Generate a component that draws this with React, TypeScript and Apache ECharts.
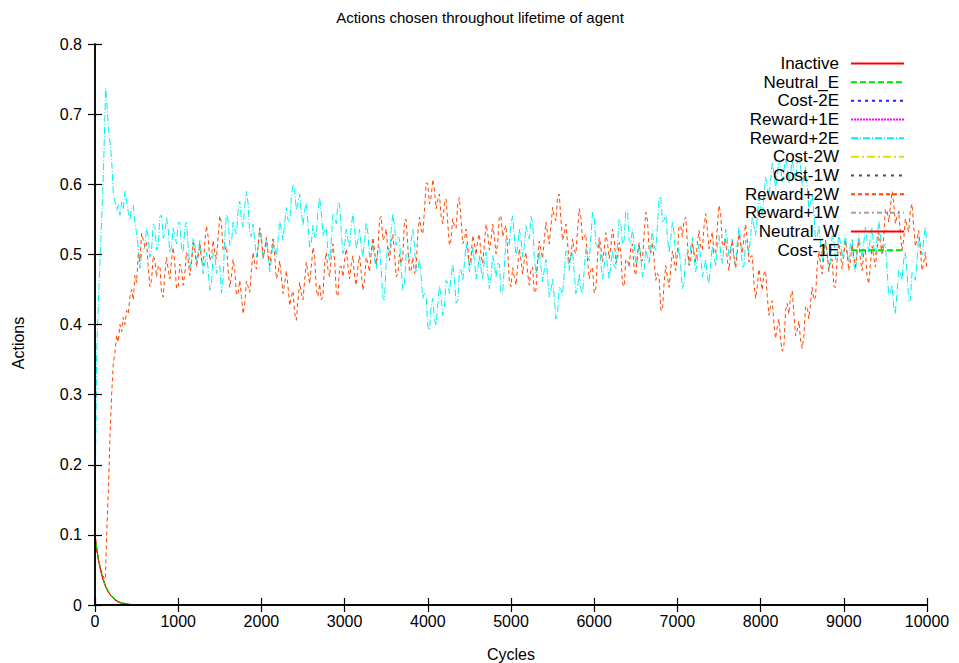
import React, { useEffect, useRef } from "react";
import * as echarts from "echarts";

// Steady-state part of the run: readings every 40 cycles from cycle 600,
// plus the in-between readings (cycle 620, 660, ...) that carry the jitter.
const BODY_START = 600;
const BODY_STEP = 40;

// Early decay of the inactive / neutral actions: [cycle, share]
const inactive: [number, number][] = [
  [0, 0.1], [20, 0.081], [40, 0.066], [60, 0.054], [80, 0.044], [100, 0.036],
  [120, 0.029], [160, 0.019], [200, 0.012], [240, 0.008], [280, 0.005],
  [320, 0.003], [400, 0.001], [500, 0], [10000, 0],
];
const neutralE: [number, number][] = [
  [0, 0.1], [20, 0.082], [40, 0.067], [60, 0.055], [80, 0.045], [100, 0.037],
  [120, 0.03], [160, 0.02], [200, 0.013], [240, 0.008], [280, 0.005],
  [320, 0.003], [400, 0.001], [520, 0], [10000, 0],
];
const neutralW: [number, number][] = [
  [0, 0.1], [20, 0.08], [40, 0.065], [60, 0.053], [80, 0.043], [100, 0.035],
  [120, 0.028], [160, 0.018], [200, 0.012], [240, 0.007], [280, 0.004],
  [320, 0.002], [400, 0.001], [500, 0], [10000, 0],
];
const cost1E: [number, number][] = [
  [0, 0.1], [20, 0.082], [40, 0.066], [60, 0.054], [80, 0.045], [100, 0.036],
  [120, 0.029], [160, 0.019], [200, 0.013], [240, 0.008], [280, 0.005],
  [320, 0.003], [400, 0.001], [520, 0], [10000, 0],
];
// Actions that were never picked
const neverChosen: [number, number][] = [[0, 0], [10000, 0]];

// Reward+2E: fast rise to the early peak, then the steady phase
const reward2EHead: [number, number][] = [
  [0, 0.09], [5, 0.18], [20, 0.36], [40, 0.43], [60, 0.49], [80, 0.55],
  [100, 0.61], [115, 0.68], [128, 0.737], [140, 0.72], [160, 0.68],
  [180, 0.66], [200, 0.635], [220, 0.587], [240, 0.575], [260, 0.563],
  [280, 0.57], [300, 0.556], [320, 0.575], [340, 0.565], [360, 0.59],
  [380, 0.575], [400, 0.56], [420, 0.55], [440, 0.565], [460, 0.57],
  [480, 0.545], [500, 0.53], [520, 0.51], [540, 0.48], [560, 0.5],
];
const reward2EBody = [
  0.511, 0.525, 0.506, 0.54, 0.511, 0.556, 0.53, 0.535, 0.511, 0.525,
  0.545, 0.506, 0.54, 0.511, 0.492, 0.514, 0.502, 0.497, 0.487, 0.478,
  0.459, 0.502, 0.483, 0.445, 0.525, 0.549, 0.516, 0.535, 0.563, 0.549,
  0.568, 0.573, 0.525, 0.52, 0.511, 0.52, 0.506, 0.497, 0.492, 0.511,
  0.52, 0.535, 0.544, 0.549, 0.582, 0.592, 0.573, 0.559, 0.563, 0.544,
  0.516, 0.525, 0.563, 0.559, 0.535, 0.502, 0.52, 0.554, 0.573, 0.53,
  0.511, 0.52, 0.54, 0.535, 0.52, 0.511, 0.52, 0.53, 0.502, 0.492,
  0.506, 0.478, 0.435, 0.511, 0.535, 0.54, 0.525, 0.478, 0.459, 0.502,
  0.52, 0.511, 0.478, 0.468, 0.445, 0.397, 0.426, 0.407, 0.43, 0.44,
  0.426, 0.459, 0.468, 0.464, 0.435, 0.478, 0.487, 0.502, 0.487, 0.492,
  0.478, 0.478, 0.492, 0.473, 0.468, 0.487, 0.487, 0.445, 0.483, 0.521,
  0.544, 0.525, 0.511, 0.521, 0.511, 0.53, 0.554, 0.497, 0.487, 0.483,
  0.478, 0.468, 0.45, 0.44, 0.416, 0.45, 0.473, 0.497, 0.497, 0.473,
  0.454, 0.45, 0.478, 0.497, 0.525, 0.554, 0.511, 0.487, 0.483, 0.483,
  0.487, 0.483, 0.516, 0.544, 0.521, 0.563, 0.516, 0.516, 0.492, 0.497,
  0.478, 0.497, 0.516, 0.511, 0.54, 0.582, 0.549, 0.525, 0.521, 0.53,
  0.497, 0.483, 0.459, 0.502, 0.511, 0.497, 0.492, 0.497, 0.478, 0.468,
  0.487, 0.497, 0.511, 0.502, 0.511, 0.521, 0.511, 0.492, 0.516, 0.521,
  0.483, 0.516, 0.525, 0.54, 0.554, 0.568, 0.582, 0.597, 0.606, 0.616,
  0.611, 0.625, 0.62, 0.627, 0.616, 0.62, 0.63, 0.625, 0.611, 0.597,
  0.573, 0.559, 0.525, 0.516, 0.502, 0.497, 0.492, 0.521, 0.5, 0.516,
  0.511, 0.502, 0.516, 0.487, 0.502, 0.511, 0.516, 0.521, 0.525, 0.511,
  0.525, 0.53, 0.511, 0.478, 0.445, 0.426, 0.445, 0.473, 0.492, 0.473,
  0.435, 0.473, 0.492, 0.516, 0.521, 0.516,
];
const reward2EJitter = [
  0.538, 0.496, 0.543, 0.506, 0.554, 0.523, 0.553, 0.503, 0.538, 0.515,
  0.546, 0.503, 0.546, 0.482, 0.523, 0.488, 0.52, 0.472, 0.503, 0.449,
  0.501, 0.473, 0.484, 0.465, 0.557, 0.513, 0.546, 0.529, 0.576, 0.539,
  0.59, 0.529, 0.543, 0.496, 0.536, 0.493, 0.522, 0.475, 0.522, 0.496,
  0.548, 0.52, 0.567, 0.546, 0.6, 0.563, 0.586, 0.541, 0.574, 0.51,
  0.541, 0.524, 0.581, 0.527, 0.539, 0.491, 0.557, 0.544, 0.572, 0.501,
  0.536, 0.51, 0.558, 0.508, 0.536, 0.496, 0.545, 0.496, 0.517, 0.479,
  0.512, 0.437, 0.493, 0.503, 0.558, 0.513, 0.522, 0.449, 0.501, 0.491,
  0.536, 0.475, 0.493, 0.437, 0.441, 0.392, 0.437, 0.399, 0.455, 0.413,
  0.463, 0.444, 0.486, 0.43, 0.477, 0.463, 0.515, 0.475, 0.51, 0.465,
  0.498, 0.465, 0.503, 0.451, 0.498, 0.467, 0.486, 0.444, 0.522, 0.513,
  0.555, 0.498, 0.536, 0.496, 0.541, 0.522, 0.546, 0.472, 0.505, 0.461,
  0.493, 0.439, 0.465, 0.408, 0.453, 0.442, 0.505, 0.477, 0.505, 0.444,
  0.472, 0.444, 0.508, 0.491, 0.56, 0.513, 0.519, 0.465, 0.503, 0.465,
  0.505, 0.48, 0.55, 0.513, 0.562, 0.52, 0.536, 0.484, 0.515, 0.468,
  0.508, 0.487, 0.534, 0.506, 0.581, 0.546, 0.557, 0.503, 0.546, 0.494,
  0.51, 0.451, 0.501, 0.487, 0.524, 0.475, 0.515, 0.468, 0.493, 0.458,
  0.512, 0.484, 0.527, 0.487, 0.536, 0.496, 0.522, 0.484, 0.539, 0.482,
  0.52, 0.501, 0.553, 0.527, 0.581, 0.555, 0.61, 0.582, 0.631, 0.594,
  0.635, 0.603, 0.636, 0.602, 0.634, 0.605, 0.636, 0.598, 0.624, 0.565,
  0.586, 0.522, 0.541, 0.489, 0.52, 0.475, 0.527, 0.491, 0.528, 0.494,
  0.527, 0.489, 0.522, 0.475, 0.527, 0.494, 0.539, 0.503, 0.538, 0.498,
  0.548, 0.501, 0.515, 0.442, 0.456, 0.416, 0.479, 0.463, 0.503, 0.434,
  0.474, 0.463, 0.524, 0.499, 0.539,
];

// Reward+2W: dips at the start, climbs, then mirrors Reward+2E
const reward2WHead: [number, number][] = [
  [0, 0.09], [40, 0.065], [80, 0.048], [110, 0.038], [125, 0.036],
  [140, 0.1], [160, 0.16], [180, 0.24], [200, 0.3], [220, 0.345],
  [240, 0.36], [260, 0.385], [280, 0.375], [300, 0.4], [320, 0.39],
  [340, 0.41], [360, 0.4], [380, 0.42], [400, 0.415], [420, 0.44],
  [440, 0.45], [460, 0.435], [480, 0.47], [500, 0.46], [520, 0.5],
  [540, 0.49], [560, 0.53],
];
const reward2WBody = [
  0.511, 0.483, 0.464, 0.492, 0.483, 0.445, 0.473, 0.478, 0.492, 0.487,
  0.454, 0.478, 0.473, 0.492, 0.487, 0.506, 0.497, 0.492, 0.516, 0.525,
  0.497, 0.502, 0.525, 0.544, 0.506, 0.478, 0.468, 0.478, 0.445, 0.44,
  0.43, 0.454, 0.478, 0.487, 0.511, 0.525, 0.506, 0.502, 0.506, 0.497,
  0.473, 0.468, 0.459, 0.454, 0.44, 0.416, 0.435, 0.445, 0.464, 0.473,
  0.483, 0.497, 0.44, 0.435, 0.487, 0.478, 0.497, 0.492, 0.44, 0.483,
  0.492, 0.483, 0.487, 0.468, 0.483, 0.473, 0.464, 0.487, 0.502, 0.506,
  0.506, 0.554, 0.525, 0.506, 0.516, 0.502, 0.473, 0.487, 0.549, 0.511,
  0.478, 0.473, 0.53, 0.535, 0.563, 0.601, 0.582, 0.592, 0.578, 0.554,
  0.573, 0.544, 0.521, 0.54, 0.573, 0.549, 0.521, 0.511, 0.497, 0.516,
  0.521, 0.497, 0.516, 0.53, 0.521, 0.525, 0.516, 0.554, 0.535, 0.506,
  0.454, 0.468, 0.483, 0.492, 0.492, 0.473, 0.478, 0.445, 0.492, 0.506,
  0.521, 0.53, 0.54, 0.554, 0.582, 0.549, 0.53, 0.516, 0.497, 0.506,
  0.535, 0.554, 0.525, 0.492, 0.478, 0.445, 0.497, 0.511, 0.506, 0.516,
  0.511, 0.521, 0.492, 0.502, 0.454, 0.492, 0.511, 0.478, 0.502, 0.492,
  0.53, 0.549, 0.502, 0.492, 0.473, 0.421, 0.459, 0.468, 0.478, 0.492,
  0.502, 0.54, 0.549, 0.516, 0.492, 0.502, 0.516, 0.511, 0.54, 0.535,
  0.521, 0.502, 0.54, 0.559, 0.511, 0.492, 0.502, 0.497, 0.502, 0.516,
  0.525, 0.521, 0.497, 0.459, 0.454, 0.464, 0.473, 0.44, 0.426, 0.402,
  0.397, 0.378, 0.369, 0.43, 0.44, 0.416, 0.392, 0.378, 0.383, 0.426,
  0.43, 0.435, 0.483, 0.487, 0.497, 0.502, 0.492, 0.454, 0.492, 0.5,
  0.497, 0.502, 0.492, 0.497, 0.506, 0.492, 0.502, 0.468, 0.487, 0.497,
  0.506, 0.516, 0.525, 0.563, 0.568, 0.573, 0.554, 0.53, 0.521, 0.54,
  0.563, 0.54, 0.521, 0.506, 0.487, 0.478,
];
const reward2WJitter = [
  0.517, 0.454, 0.498, 0.468, 0.484, 0.439, 0.496, 0.465, 0.51, 0.451,
  0.486, 0.456, 0.503, 0.47, 0.517, 0.482, 0.515, 0.484, 0.541, 0.491,
  0.52, 0.494, 0.555, 0.505, 0.512, 0.453, 0.493, 0.442, 0.463, 0.415,
  0.462, 0.446, 0.503, 0.479, 0.538, 0.496, 0.524, 0.484, 0.522, 0.465,
  0.491, 0.444, 0.477, 0.427, 0.448, 0.406, 0.46, 0.435, 0.489, 0.458,
  0.51, 0.449, 0.458, 0.441, 0.503, 0.468, 0.515, 0.446, 0.482, 0.468,
  0.508, 0.465, 0.498, 0.456, 0.498, 0.449, 0.496, 0.475, 0.524, 0.486,
  0.55, 0.52, 0.536, 0.491, 0.529, 0.468, 0.5, 0.498, 0.55, 0.475,
  0.496, 0.482, 0.553, 0.529, 0.602, 0.572, 0.607, 0.565, 0.586, 0.544,
  0.579, 0.513, 0.551, 0.537, 0.581, 0.515, 0.536, 0.484, 0.527, 0.499,
  0.529, 0.487, 0.543, 0.506, 0.543, 0.501, 0.555, 0.525, 0.541, 0.46,
  0.481, 0.456, 0.508, 0.472, 0.503, 0.456, 0.482, 0.449, 0.519, 0.494,
  0.546, 0.515, 0.567, 0.548, 0.586, 0.52, 0.543, 0.487, 0.522, 0.501,
  0.565, 0.52, 0.529, 0.465, 0.482, 0.451, 0.524, 0.489, 0.531, 0.494,
  0.536, 0.487, 0.517, 0.458, 0.493, 0.482, 0.515, 0.47, 0.517, 0.491,
  0.56, 0.506, 0.517, 0.463, 0.467, 0.42, 0.484, 0.453, 0.505, 0.477,
  0.541, 0.525, 0.553, 0.484, 0.517, 0.489, 0.534, 0.506, 0.558, 0.508,
  0.532, 0.501, 0.57, 0.515, 0.522, 0.477, 0.52, 0.48, 0.529, 0.501,
  0.543, 0.489, 0.498, 0.437, 0.479, 0.449, 0.477, 0.413, 0.434, 0.38,
  0.408, 0.362, 0.42, 0.415, 0.448, 0.384, 0.405, 0.366, 0.425, 0.408,
  0.453, 0.439, 0.505, 0.472, 0.52, 0.477, 0.493, 0.453, 0.516, 0.479,
  0.52, 0.477, 0.515, 0.482, 0.519, 0.477, 0.505, 0.458, 0.512, 0.482,
  0.531, 0.501, 0.564, 0.546, 0.59, 0.544, 0.562, 0.506, 0.551, 0.532,
  0.572, 0.511, 0.534, 0.477, 0.503,
];

const xTicks = [0, 1000, 2000, 3000, 4000, 5000, 6000, 7000, 8000, 9000, 10000];

// Head points, then each steady reading followed by its in-between reading
const buildTrace = (head: [number, number][], body: number[], jitter: number[]) => {
  const pts: number[][] = [...head];
  body.forEach((v, i) => {
    const c = BODY_START + i * BODY_STEP;
    pts.push([c, v]);
    if (i < jitter.length) pts.push([c + BODY_STEP / 2, jitter[i]]);
  });
  return pts;
};

const FONT = "'Liberation Sans', Arial, Helvetica, sans-serif";

type Line = { name: string; data: number[][]; color: string; dash: number[] | "solid" };

const lines: Line[] = [
  { name: "Inactive", data: inactive, color: "#ff0000", dash: "solid" },
  { name: "Neutral_E", data: neutralE, color: "#00dd00", dash: [6, 3] },
  { name: "Cost-2E", data: neverChosen, color: "#2020ff", dash: [3, 4] },
  { name: "Reward+1E", data: neverChosen, color: "#ff00ff", dash: [2, 1] },
  { name: "Reward+2E", data: buildTrace(reward2EHead, reward2EBody, reward2EJitter), color: "#00f0f0", dash: [7, 2, 1, 2] },
  { name: "Cost-2W", data: neverChosen, color: "#e0e000", dash: [8, 3, 2, 3] },
  { name: "Cost-1W", data: neverChosen, color: "#505050", dash: [3, 5] },
  { name: "Reward+2W", data: buildTrace(reward2WHead, reward2WBody, reward2WJitter), color: "#ff4500", dash: [4, 3] },
  { name: "Reward+1W", data: neverChosen, color: "#a0a0a0", dash: [5, 3, 2, 3] },
  { name: "Neutral_W", data: neutralW, color: "#ff0000", dash: "solid" },
  { name: "Cost-1E", data: cost1E, color: "#00dd00", dash: [6, 3] },
];

export default function App() {
  const ref = useRef<HTMLDivElement>(null);

  useEffect(() => {
    if (!ref.current) return;
    const chart = echarts.init(ref.current, null, { renderer: "svg" });

    const axisLine = { show: true, lineStyle: { color: "#000", width: 1.5 } };
    const axisTick = { show: true, inside: true, length: 7, lineStyle: { color: "#000", width: 1.2 } };

    chart.setOption({
      animation: false,
      backgroundColor: "#fff",
      grid: { left: 95, right: 32, top: 44, bottom: 58, containLabel: false },
      xAxis: [
        {
          type: "value", min: 0, max: 10000, interval: 1000, position: "bottom", z: 5,
          axisLine, axisTick, splitLine: { show: false },
          axisLabel: {
            margin: 8, color: "#000", fontSize: 16, fontFamily: FONT,
            formatter: (v: number) => (xTicks.includes(v) ? String(v) : ""),
          },
        },
        {
          type: "value", min: 0, max: 10000, interval: 1000, position: "top", z: 5,
          axisLine, axisTick, splitLine: { show: false }, axisLabel: { show: false },
        },
      ],
      yAxis: [
        {
          type: "value", min: 0, max: 0.8, interval: 0.1, position: "left", z: 5,
          axisLine, axisTick, splitLine: { show: false },
          axisLabel: { margin: 13, color: "#000", fontSize: 16, fontFamily: FONT },
        },
        {
          type: "value", min: 0, max: 0.8, interval: 0.1, position: "right", z: 5,
          axisLine, axisTick, splitLine: { show: false }, axisLabel: { show: false },
        },
      ],
      legend: {
        orient: "vertical",
        right: 49,
        top: 50,
        align: "right",
        itemWidth: 53,
        itemHeight: 14,
        itemGap: 1.67,
        selectedMode: false,
        itemStyle: { opacity: 0 },
        data: lines.map((l) => l.name),
        textStyle: { color: "#000", fontSize: 17, fontFamily: FONT, padding: [0, 7, 0, 0] },
      },
      graphic: [
        {
          type: "text", x: 480, y: 17,
          style: {
            text: "Actions chosen throughout lifetime of agent", fill: "#000",
            font: `15px ${FONT}`, textAlign: "center", textVerticalAlign: "middle",
          },
        },
        {
          type: "text", x: 511, y: 654,
          style: { text: "Cycles", fill: "#000", font: `16px ${FONT}`, textAlign: "center", textVerticalAlign: "middle" },
        },
        {
          type: "text", x: 18, y: 343, rotation: Math.PI / 2,
          style: { text: "Actions", fill: "#000", font: `16px ${FONT}`, textAlign: "center", textVerticalAlign: "middle" },
        },
      ],
      series: lines.map((l) => ({
        name: l.name,
        type: "line",
        data: l.data,
        xAxisIndex: 0,
        yAxisIndex: 0,
        showSymbol: false,
        symbol: "none",
        color: l.color,
        lineStyle: { color: l.color, width: 1, type: l.dash },
        emphasis: { disabled: true },
      })),
    });

    return () => chart.dispose();
  }, []);

  return (
    <div
      ref={ref}
      style={{ position: "fixed", left: 0, top: 0, width: 959, height: 663, background: "#fff" }}
    />
  );
}
